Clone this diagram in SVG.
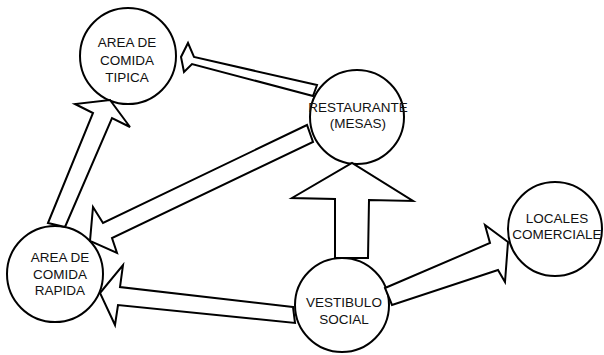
<svg xmlns="http://www.w3.org/2000/svg" width="604" height="355" viewBox="0 0 604 355">
<style>
.node{fill:#fff;stroke:#000;stroke-width:2}
.arr{fill:#fff;stroke:#000;stroke-width:2;stroke-linejoin:miter}
text{font-family:"Liberation Sans",Arial,sans-serif;font-size:13.5px;fill:#111;text-anchor:middle}
</style>
<rect width="604" height="355" fill="#fff"/>
<g id="n-tipica"><circle class="node" cx="128" cy="56" r="48"/><text x="127" y="47">AREA DE</text><text x="127" y="64.5">COMIDA</text><text x="127" y="82">TIPICA</text></g>
<g id="n-restaurante"><circle class="node" cx="357" cy="117" r="47"/><text x="358" y="112">RESTAURANTE</text><text x="358" y="128">(MESAS)</text></g>
<g id="n-rapida"><circle class="node" cx="55" cy="274" r="48"/><text x="60" y="262">AREA DE</text><text x="60" y="278.5">COMIDA</text><text x="60" y="295">RAPIDA</text></g>
<g id="n-vestibulo"><circle class="node" cx="342" cy="305" r="47"/><text x="344" y="307">VESTIBULO</text><text x="344" y="324">SOCIAL</text></g>
<g id="n-locales"><circle class="node" cx="555" cy="229" r="47"/><text x="557" y="223">LOCALES</text><text x="557" y="238.5">COMERCIALE</text></g>
<g id="connectors">
<polygon class="arr" points="48,223 93,113 75,104 110,100 130,127 112,118 65,227"/>
<polygon class="arr" points="317,85 194,57 188,43 181,57 184,72 192,64 313,96"/>
<polygon class="arr" points="307,125 103,223 93,207 90,241 117,253 112,238 313,142"/>
<polygon class="arr" points="293,307 120,287 123,265 100,293 115,325 118,305 295,323"/>
<polygon class="arr" points="385,288 490,243 485,225 508,242 505,282 498,270 392,305"/>
<polygon class="arr" points="335,258 335,199 292,198 352,163 413,201 369,200 368,258"/>
</g>
</svg>
